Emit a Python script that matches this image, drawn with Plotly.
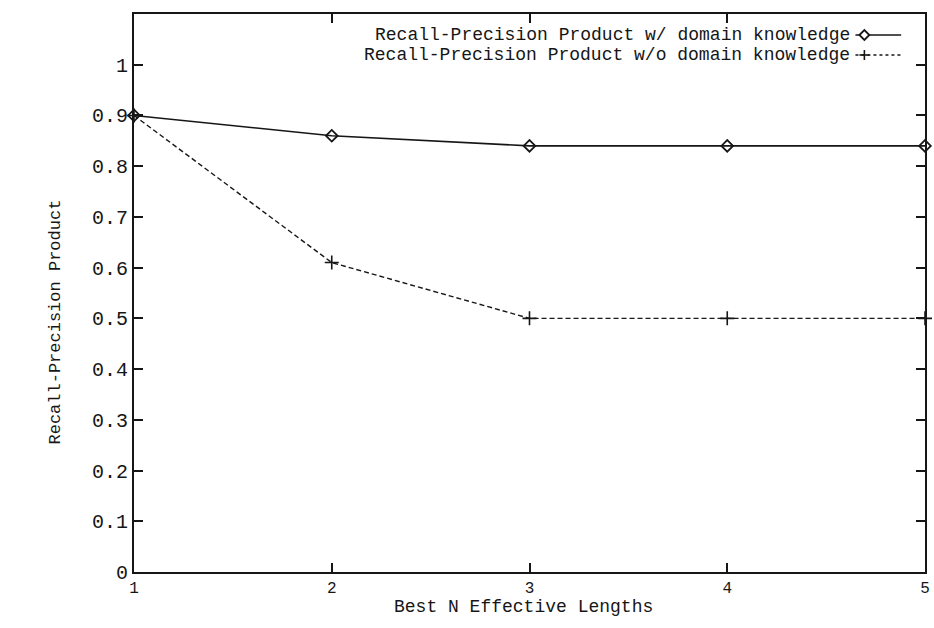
import plotly.graph_objects as go

# Best-N effective lengths on the x axis
n_lengths = [1, 2, 3, 4, 5]
# Recall-precision product with and without domain knowledge
rpp_with_domain = [0.90, 0.86, 0.84, 0.84, 0.84]
rpp_without_domain = [0.90, 0.61, 0.50, 0.50, 0.50]

y_tick_vals = [0, 0.1, 0.2, 0.3, 0.4, 0.5, 0.6, 0.7, 0.8, 0.9, 1]
y_tick_text = ["0", "0.1", "0.2", "0.3", "0.4", "0.5", "0.6", "0.7", "0.8", "0.9", "1"]
x_tick_vals = [1, 2, 3, 4, 5]

label_with = "Recall-Precision Product w/ domain knowledge"
label_without = "Recall-Precision Product w/o domain knowledge"

INK = "#161616"
MONO = "Liberation Mono, Courier New, monospace"

W, H = 934, 628
ML, MR, MT, MB = 134, 4, 14, 56

fig = go.Figure()

fig.add_trace(go.Scatter(
    x=n_lengths, y=rpp_with_domain, mode="lines+markers", name=label_with,
    line=dict(color=INK, width=1.6),
    marker=dict(symbol="diamond-open", size=9, color=INK, line=dict(width=1.8, color=INK)),
    cliponaxis=False, showlegend=False,
))
fig.add_trace(go.Scatter(
    x=n_lengths, y=rpp_without_domain, mode="lines+markers", name=label_without,
    line=dict(color=INK, width=1.4, dash="5px,3px"),
    marker=dict(symbol="cross-thin-open", size=10, color=INK, line=dict(width=1.6, color=INK)),
    cliponaxis=False, showlegend=False,
))

# gnuplot-style key: right-aligned text followed by the line sample
pw = W - ML - MR
ph = H - MT - MB


def px_x(p):
    return (p - ML) / pw


def px_y(p):
    return 1 - (p - MT) / ph


key_rows = [(label_with, 35, "solid", "diamond"), (label_without, 55, "dot", "plus")]
annotations = []
shapes = []
for text, yrow, dash, mk in key_rows:
    annotations.append(dict(
        xref="paper", yref="paper", x=px_x(857), y=px_y(yrow), xanchor="right", yanchor="middle",
        text=text, showarrow=False, font=dict(family=MONO, size=18, color=INK),
    ))
    shapes.append(dict(
        type="line", xref="paper", yref="paper", x0=px_x(860), x1=px_x(906), y0=px_y(yrow), y1=px_y(yrow),
        line=dict(color=INK, width=1.6 if dash == "solid" else 1.3, dash=dash),
    ))
    cx, cy = 869, yrow
    if mk == "diamond":
        shapes.append(dict(
            type="path", xref="paper", yref="paper",
            path=(f"M {px_x(cx - 5)} {px_y(cy)} L {px_x(cx)} {px_y(cy - 5)} "
                  f"L {px_x(cx + 5)} {px_y(cy)} L {px_x(cx)} {px_y(cy + 5)} Z"),
            fillcolor="white", line=dict(color=INK, width=1.8),
        ))
    else:
        shapes.append(dict(type="line", xref="paper", yref="paper",
                           x0=px_x(cx - 5), x1=px_x(cx + 5), y0=px_y(cy), y1=px_y(cy),
                           line=dict(color=INK, width=1.6)))
        shapes.append(dict(type="line", xref="paper", yref="paper",
                           x0=px_x(cx), x1=px_x(cx), y0=px_y(cy - 5), y1=px_y(cy + 5),
                           line=dict(color=INK, width=1.6)))

# vertical y-axis title
annotations.append(dict(
    xref="paper", yref="paper", x=px_x(54), y=px_y(322), xanchor="center", yanchor="middle",
    text="Recall-Precision Product", textangle=-90, showarrow=False,
    font=dict(family=MONO, size=17, color=INK),
))
# x-axis title, just under the tick labels
annotations.append(dict(
    xref="paper", yref="paper", x=px_x(526), y=px_y(607), xanchor="center", yanchor="middle",
    text="Best N Effective Lengths", showarrow=False,
    font=dict(family=MONO, size=18, color=INK),
))

fig.update_layout(
    width=W, height=H,
    margin=dict(l=ML, r=MR, t=MT, b=MB),
    paper_bgcolor="white", plot_bgcolor="white",
    font=dict(family=MONO, color=INK),
    annotations=annotations, shapes=shapes,
    xaxis=dict(
        range=[1, 5], tickvals=x_tick_vals, ticks="inside", ticklen=9, tickwidth=1.5, tickcolor=INK,
        showline=True, linecolor=INK, linewidth=2, mirror="ticks", showgrid=False, zeroline=False,
        tickfont=dict(family=MONO, size=16, color=INK),
    ),
    yaxis=dict(
        range=[0, 1.1], tickvals=y_tick_vals, ticktext=y_tick_text, ticks="inside", ticklen=9,
        tickwidth=1.5, tickcolor=INK,
        showline=True, linecolor=INK, linewidth=2, mirror="ticks", showgrid=False, zeroline=False,
        tickfont=dict(family=MONO, size=20, color=INK),
    ),
)

fig.write_html("out.html")
